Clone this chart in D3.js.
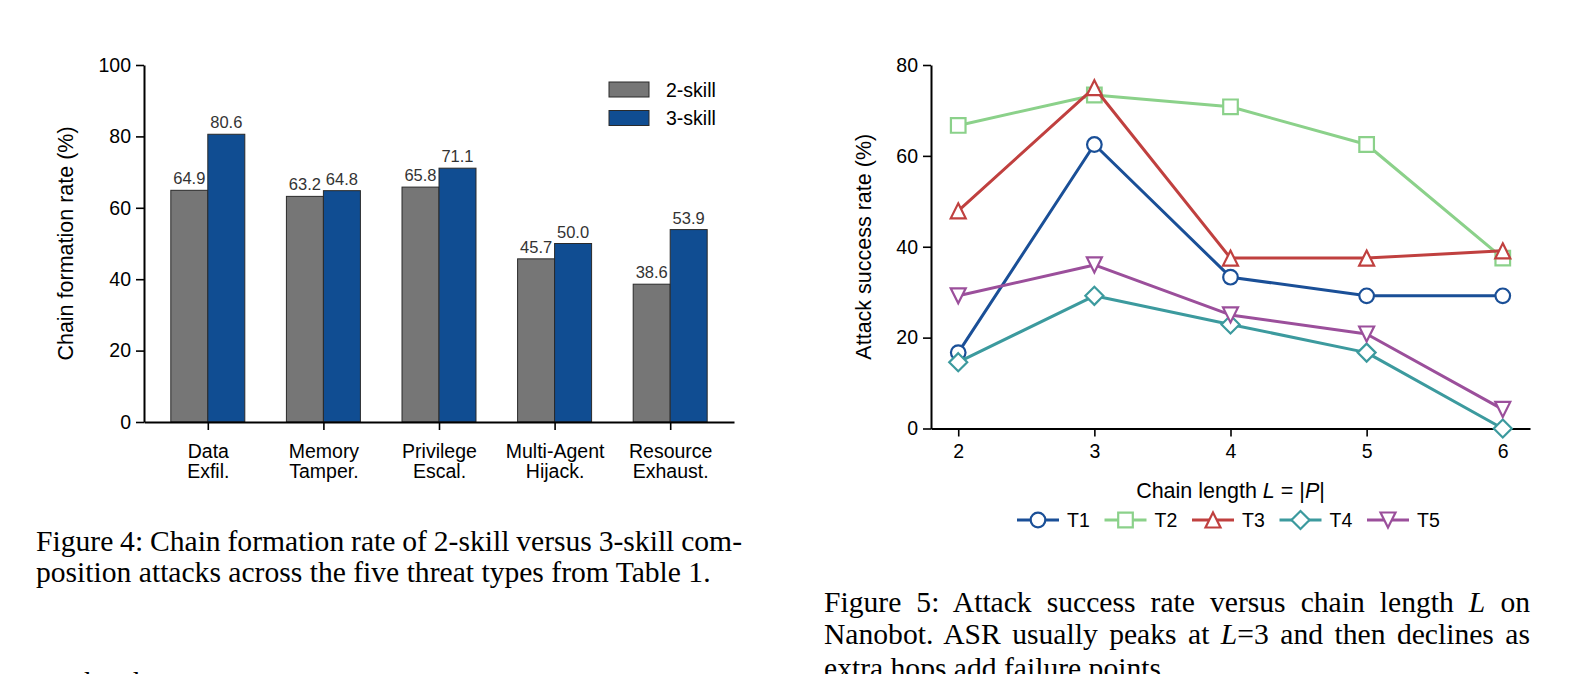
<!DOCTYPE html>
<html>
<head>
<meta charset="utf-8">
<style>
  body { margin: 0; background: #fff; }
  svg { display: block; }
</style>
</head>
<body>
<svg></svg>
<script src="https://d3js.org/d3.v7.min.js"></script>
<script>

// ---- data: figure 4 (bars)
const threatTypes = [["Data", "Exfil."], ["Memory", "Tamper."], ["Privilege", "Escal."],
                     ["Multi-Agent", "Hijack."], ["Resource", "Exhaust."]];
const twoSkill = [64.9, 63.2, 65.8, 45.7, 38.6];
const threeSkill = [80.6, 64.8, 71.1, 50.0, 53.9];
const barTicks = [0, 20, 40, 60, 80, 100];

// ---- data: figure 5 (lines)
const chainLengths = [2, 3, 4, 5, 6];
const t1 = [16.7, 62.5, 33.3, 29.2, 29.2];
const t2 = [66.7, 73.4, 70.8, 62.5, 37.5];
const t3 = [47.9, 75.0, 37.5, 37.5, 39.1];
const t4 = [14.6, 29.2, 22.9, 16.7, 0.0];
const t5 = [29.2, 36.0, 25.0, 20.8, 4.2];
const lineTicks = [0, 20, 40, 60, 80];

const width = 1585;
const height = 674;
const sans = "'Liberation Sans', Arial, sans-serif";
const serif = "'Liberation Serif', 'Times New Roman', serif";

const svg = d3.select("svg")
    .attr("width", width)
    .attr("height", height)
    .attr("viewBox", [0, 0, width, height]);

function styleAxis(g) {
  g.selectAll(".domain").attr("stroke", "#000").attr("stroke-width", 2);
  g.selectAll(".tick line").attr("stroke", "#000").attr("stroke-width", 1.6);
  g.selectAll(".tick text").attr("font-family", sans).attr("font-size", 19.5).attr("fill", "#000");
}

// ================= Figure 4 =================
const xL = d3.scaleLinear().domain([-0.552, 4.552]).range([144, 734]);
const yL = d3.scaleLinear().domain([0, 100]).range([422, 65]);
const bw = 0.32;

const left = svg.append("g");

const groups = left.selectAll("g.grp")
  .data(threatTypes.map((t, i) => ({ i, a: twoSkill[i], b: threeSkill[i] })))
  .join("g").attr("class", "grp");

groups.append("rect")
  .attr("x", d => xL(d.i - bw))
  .attr("y", d => yL(d.a))
  .attr("width", d => xL(d.i) - xL(d.i - bw))
  .attr("height", d => yL(0) - yL(d.a))
  .attr("fill", "#767676")
  .attr("stroke", "#2a2a2a")
  .attr("stroke-width", 1);

groups.append("rect")
  .attr("x", d => xL(d.i))
  .attr("y", d => yL(d.b))
  .attr("width", d => xL(d.i + bw) - xL(d.i))
  .attr("height", d => yL(0) - yL(d.b))
  .attr("fill", "#104d92")
  .attr("stroke", "#2a2a2a")
  .attr("stroke-width", 1);

groups.append("text")
  .attr("x", d => xL(d.i - bw / 2))
  .attr("y", d => yL(d.a) - 6)
  .attr("text-anchor", "middle")
  .attr("font-family", sans).attr("font-size", 16.5).attr("fill", "#333")
  .text(d => d.a.toFixed(1));

groups.append("text")
  .attr("x", d => xL(d.i + bw / 2))
  .attr("y", d => yL(d.b) - 6)
  .attr("text-anchor", "middle")
  .attr("font-family", sans).attr("font-size", 16.5).attr("fill", "#333")
  .text(d => d.b.toFixed(1));

left.append("g")
  .attr("transform", `translate(144,0)`)
  .call(d3.axisLeft(yL).tickValues(barTicks).tickSize(8).tickSizeOuter(0).tickPadding(5))
  .call(styleAxis);

const xAxisL = left.append("g")
  .attr("transform", `translate(0,${yL(0)})`)
  .call(d3.axisBottom(xL).tickValues(d3.range(threatTypes.length)).tickFormat("").tickSize(8).tickSizeOuter(0))
  .call(styleAxis);

xAxisL.selectAll(".tick text").remove();
xAxisL.selectAll(".tick").append("text")
  .attr("text-anchor", "middle")
  .attr("font-family", sans).attr("font-size", 19.5).attr("fill", "#000")
  .selectAll("tspan")
  .data(i => threatTypes[i])
  .join("tspan")
    .attr("x", 0)
    .attr("y", (d, j) => 36 + j * 20)
    .text(d => d);

left.append("text")
  .attr("transform", `translate(73,${(yL(0) + yL(100)) / 2}) rotate(-90)`)
  .attr("text-anchor", "middle")
  .attr("font-family", sans).attr("font-size", 21.5)
  .text("Chain formation rate (%)");

const barLegend = [["2-skill", "#767676"], ["3-skill", "#104d92"]];
const lg = left.append("g").selectAll("g").data(barLegend).join("g")
  .attr("transform", (d, i) => `translate(609,${82 + i * 28.5})`);
lg.append("rect").attr("width", 40).attr("height", 15)
  .attr("fill", d => d[1]).attr("stroke", "#2a2a2a").attr("stroke-width", 1);
lg.append("text").attr("x", 57).attr("y", 14.5)
  .attr("font-family", sans).attr("font-size", 19.5).text(d => d[0]);

// ================= Figure 5 =================
const xR = d3.scaleLinear().domain([1.8, 6.2]).range([931, 1530]);
const yR = d3.scaleLinear().domain([0, 80]).range([428.5, 65]);

const right = svg.append("g");

right.append("g")
  .attr("transform", `translate(931,0)`)
  .call(d3.axisLeft(yR).tickValues(lineTicks).tickSize(8).tickSizeOuter(0).tickPadding(5))
  .call(styleAxis);

right.append("g")
  .attr("transform", `translate(0,${yR(0)})`)
  .call(d3.axisBottom(xR).tickValues(chainLengths).tickFormat(d3.format("d"))
        .tickSize(8).tickSizeOuter(0).tickPadding(8))
  .call(styleAxis);

const markerPath = {
  circle: d3.symbol(d3.symbolCircle, Math.PI * 7.3 * 7.3)(),
  square: "M-7.3,-7.3H7.3V7.3H-7.3Z",
  triUp: "M0,-7.5L7.5,7.5L-7.5,7.5Z",
  diamond: "M0,-9L9,0L0,9L-9,0Z",
  triDown: "M0,7.5L7.5,-7.5L-7.5,-7.5Z"
};

const series = [
  { name: "T1", values: t1, color: "#1a4f97", marker: "circle" },
  { name: "T2", values: t2, color: "#8bd18a", marker: "square" },
  { name: "T3", values: t3, color: "#c0403f", marker: "triUp" },
  { name: "T4", values: t4, color: "#3c9a9e", marker: "diamond" },
  { name: "T5", values: t5, color: "#9b4f9b", marker: "triDown" }
];

const line = d3.line().x((d, i) => xR(chainLengths[i])).y(d => yR(d));

series.forEach(s => {
  const g = right.append("g");
  g.append("path")
    .attr("d", line(s.values))
    .attr("fill", "none")
    .attr("stroke", s.color)
    .attr("stroke-width", 3)
    .attr("stroke-linejoin", "round");
  g.selectAll("path.m")
    .data(s.values)
    .join("path").attr("class", "m")
    .attr("transform", (d, i) => `translate(${xR(chainLengths[i])},${yR(d)})`)
    .attr("d", markerPath[s.marker])
    .attr("fill", "#fff")
    .attr("stroke", s.color)
    .attr("stroke-width", 2.2);
});

right.append("text")
  .attr("transform", `translate(871,${(yR(0) + yR(80)) / 2}) rotate(-90)`)
  .attr("text-anchor", "middle")
  .attr("font-family", sans).attr("font-size", 21.5)
  .text("Attack success rate (%)");

const xLab = right.append("text")
  .attr("x", (xR(1.8) + xR(6.2)) / 2).attr("y", 498)
  .attr("text-anchor", "middle")
  .attr("font-family", sans).attr("font-size", 21.5);
xLab.append("tspan").text("Chain length ");
xLab.append("tspan").attr("font-style", "italic").text("L");
xLab.append("tspan").text(" = |");
xLab.append("tspan").attr("font-style", "italic").text("P");
xLab.append("tspan").text("|");

const leg = right.append("g").selectAll("g").data(series).join("g")
  .attr("transform", (d, i) => `translate(${1017 + i * 87.5},520)`);
leg.append("line").attr("x1", 0).attr("x2", 42)
  .attr("stroke", d => d.color).attr("stroke-width", 3);
leg.append("path").attr("transform", "translate(21,0)")
  .attr("d", d => markerPath[d.marker])
  .attr("fill", "#fff").attr("stroke", d => d.color).attr("stroke-width", 2.2);
leg.append("text").attr("x", 50).attr("y", 7)
  .attr("font-family", sans).attr("font-size", 19.5).text(d => d.name);

// ================= captions =================
function caption(x, y, parts, target) {
  const t = svg.append("text").attr("x", x).attr("y", y)
    .attr("font-family", serif).attr("font-size", 29.6).attr("fill", "#000");
  parts.forEach(p => {
    t.append("tspan").attr("font-style", p[1] ? "italic" : null).text(p[0]);
  });
  if (target) {
    const natural = t.node().getComputedTextLength();
    const spaces = parts.map(p => p[0]).join("").split(" ").length - 1;
    t.attr("word-spacing", (target - natural) / spaces);
  }
  return t;
}

caption(36, 551, [["Figure 4: Chain formation rate of 2-skill versus 3-skill com-"]], 706);
caption(36, 582, [["position attacks across the five threat types from Table 1."]]);
caption(36, 692, [["can be chosen over many"]]);

caption(824, 612, [["Figure 5: Attack success rate versus chain length "], ["L", true], [" on"]], 706);
caption(824, 644, [["Nanobot. ASR usually peaks at "], ["L", true], ["=3 and then declines as"]], 706);
caption(824, 678, [["extra hops add failure points."]]);

</script>
</body>
</html>
